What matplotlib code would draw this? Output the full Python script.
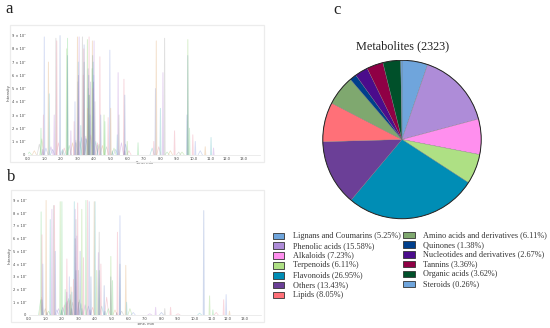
import matplotlib
matplotlib.use("Agg")
import matplotlib.pyplot as plt
from matplotlib.patches import Rectangle, Circle

W, H = 550, 328
plt.rcParams['font.family'] = ['Liberation Serif', 'DejaVu Serif']

# ---- data ----
y_ticks = [0, 1, 2, 3, 4, 5, 6, 7, 8, 9]
y_tick_labels = ['0', '1 × 10⁷', '2 × 10⁷', '3 × 10⁷', '4 × 10⁷', '5 × 10⁷', '6 × 10⁷', '7 × 10⁷', '8 × 10⁷', '9 × 10⁷']
x_ticks = [0, 1, 2, 3, 4, 5, 6, 7, 8, 9, 10, 11, 12, 13]
x_tick_labels = ['0.0', '1.0', '2.0', '3.0', '4.0', '5.0', '6.0', '7.0', '8.0', '9.0', '10.0', '11.0', '12.0', '13.0']

a_rt = [0.8, 0.95, 1.0, 1.25, 1.3, 1.6, 1.7, 1.75, 1.95, 2.35, 2.4, 2.8, 2.85, 3.0, 3.05, 3.1, 3.3, 3.35, 3.4,
        3.6, 3.65, 3.7, 3.75, 3.9, 3.95, 4.0, 4.05, 4.35, 4.4, 4.6, 4.65, 4.85, 4.95, 5.0, 5.4, 5.45, 5.5, 5.8,
        5.85, 6.0, 6.65, 7.6, 7.7, 7.75, 8.0, 8.15, 8.25, 8.85, 9.6, 9.65, 9.75, 9.95, 10.1, 10.7, 11.05, 11.2,
        3.02, 3.38, 3.68, 3.72, 3.88, 3.92, 3.98, 3.62, 3.2, 2.6]
a_height = [2.0, 3.0, 8.9, 7.0, 4.6, 3.0, 8.8, 8.6, 9.0, 8.0, 8.8, 2.5, 4.0, 8.9, 7.0, 8.9, 8.9, 6.0, 8.3,
            8.7, 5.0, 8.9, 3.0, 8.6, 7.0, 8.6, 4.0, 7.4, 3.0, 3.0, 2.5, 2.8, 7.9, 3.5, 1.5, 6.2, 3.0, 5.7,
            4.5, 1.0, 0.9, 1.0, 5.0, 8.6, 3.5, 6.2, 8.8, 1.8, 3.0, 8.7, 2.0, 1.5, 1.0, 0.6, 1.3, 0.5,
            5.5, 8.0, 6.0, 4.5, 6.5, 5.0, 6.0, 3.5, 2.2, 1.8]
a_small_rt = [0.1, 0.4, 0.7, 0.85, 1.1, 1.4, 1.5, 1.85, 2.1, 2.2, 2.5, 2.7, 2.9, 3.15, 3.25, 3.5, 3.55, 3.8, 4.1,
              4.2, 4.3, 4.5, 4.75, 5.2, 5.3, 5.65, 5.9, 6.1, 7.5, 7.9, 8.4, 8.6, 9.1, 9.3, 10.4]
a_small_height = [0.2, 0.3, 0.8, 1.2, 0.5, 0.6, 0.4, 0.9, 0.4, 0.5, 0.7, 0.9, 1.1, 1.0, 1.3, 1.4, 1.2, 1.5, 1.0,
                  0.9, 0.8, 0.7, 0.6, 0.5, 0.4, 0.9, 0.8, 0.3, 0.5, 0.6, 0.2, 0.3, 0.2, 0.2, 0.3]
a_dark_rt = [2.4, 3.05, 3.4, 3.64, 3.7, 3.78, 3.92, 3.97, 9.65, 0.9, 2.1, 2.9, 3.5, 4.2, 5.1, 5.85]
a_dark_height = [7.5, 6.0, 7.0, 6.5, 4.5, 5.5, 7.5, 5.5, 7.5, 0.4, 0.3, 0.9, 1.2, 0.7, 0.3, 0.3]

b_rt = [0.75, 0.8, 0.85, 1.05, 1.3, 1.4, 1.5, 1.55, 1.6, 1.9, 2.0, 2.3, 2.45, 2.55, 2.75, 2.8, 2.85, 2.95,
        3.1, 3.2, 3.45, 3.55, 3.65, 3.95, 4.0, 4.2, 4.25, 4.35, 4.55, 4.95, 5.05, 5.35, 5.5, 5.85, 5.9, 7.65,
        8.2, 8.55, 10.55, 10.9, 11.1, 11.75, 11.9, 12.1, 2.6, 2.9, 3.0, 3.3, 3.75, 4.1, 2.2, 2.7]
b_height = [8.1, 6.3, 4.0, 9.0, 7.5, 8.3, 8.6, 8.6, 5.0, 8.9, 8.9, 4.4, 3.0, 2.2, 8.9, 8.3, 7.5, 8.8,
            5.0, 8.3, 9.0, 9.0, 8.9, 8.9, 8.9, 4.9, 6.5, 4.0, 2.3, 4.6, 2.7, 6.5, 7.8, 3.9, 1.0, 0.6,
            0.5, 0.6, 8.2, 1.5, 0.4, 1.2, 1.6, 0.3, 1.8, 6.2, 3.5, 4.5, 3.0, 3.5, 2.0, 2.8]
b_small_rt = [0.72, 0.78, 1.0, 1.2, 1.7, 1.8, 2.05, 2.15, 2.25, 2.35, 2.4, 2.5, 2.65, 3.05, 3.15, 3.4, 3.6, 3.85,
              4.4, 4.7, 4.8, 5.2, 5.6, 6.1, 6.3, 7.3, 8.0, 9.0, 10.3, 11.3]
b_small_height = [1.2, 1.4, 0.5, 0.3, 0.4, 0.5, 0.6, 0.8, 1.0, 1.1, 1.3, 1.2, 1.0, 1.2, 0.9, 0.8, 0.7, 0.6,
                  0.7, 1.4, 0.5, 0.4, 0.3, 0.5, 0.2, 0.1, 0.2, 0.1, 0.15, 0.2]
b_dark_rt = [0.8, 2.3, 2.5, 2.8, 2.85, 3.0, 4.25, 4.95, 5.5, 1.1, 2.0, 2.6, 3.2, 3.7, 4.6, 5.3]
b_dark_height = [1.2, 1.8, 1.6, 6.0, 3.5, 1.0, 3.5, 3.0, 4.0, 0.2, 0.4, 0.5, 0.5, 0.4, 0.3, 0.2]

peak_colors = ['#8fdc9a', '#f2a3b3', '#9fb0e6', '#e5b98a', '#7fc9cf', '#c79be0', '#b5b5b5', '#eda0b0', '#8fa5d5', '#a5d98a']
dark_colors = ['#3f6f9f', '#6b4f9f', '#2f7f7f', '#5f5f8f']

categories = ['Lignans and Coumarins', 'Phenolic acids', 'Alkaloids', 'Terpenoids', 'Flavonoids', 'Others', 'Lipids',
              'Amino acids and derivatives', 'Quinones', 'Nucleotides and derivatives', 'Tannins', 'Organic acids', 'Steroids']
shares = [5.25, 15.58, 7.23, 6.11, 26.95, 13.43, 8.05, 6.11, 1.38, 2.67, 3.36, 3.62, 0.26]
pie_colors = ['#6fa5dc', '#ae8cd8', '#ff8fee', '#aee084', '#008db5', '#6b3f97', '#ff7078',
              '#7fa86f', '#003f8c', '#4b0c8c', '#8f0045', '#00502a', '#6fa5dc']

fig = plt.figure(figsize=(W / 100, H / 100), dpi=100, facecolor='white')


def px_axes(x0, y_top, x1, y_bottom):
    return fig.add_axes([x0 / W, 1 - y_bottom / H, (x1 - x0) / W, (y_bottom - y_top) / H])


def frame(x0, y0, x1, y1):
    fig.add_artist(Rectangle((x0 / W, 1 - y1 / H), (x1 - x0) / W, (y1 - y0) / H, transform=fig.transFigure,
                             fill=False, edgecolor='#ececec', linewidth=0.9))


def chromatogram(ax, rt, height, small_rt, small_height, dark_rt, dark_height):
    half = 0.05
    for i, (r, h) in enumerate(zip(small_rt, small_height)):
        c = peak_colors[i * 3 % len(peak_colors)]
        ax.plot([r - half * 2.5, r, r + half * 2.5], [0, h, 0], color=c, lw=0.5, alpha=0.5)
    for i, (r, h) in enumerate(zip(rt, height)):
        c = peak_colors[i % len(peak_colors)]
        ax.plot([r - half * 0.6, r, r + half * 0.6], [0, h, 0], color=c, lw=0.7, alpha=0.42)
    for i, (r, h) in enumerate(zip(dark_rt, dark_height)):
        c = dark_colors[i % len(dark_colors)]
        ax.plot([r - half * 0.6, r, r + half * 0.6], [0, h, 0], color=c, lw=0.5, alpha=0.3)
    ax.set_xlim(0, 14)
    ax.set_ylim(0, 9.35)
    for s in ['top', 'right', 'left']:
        ax.spines[s].set_visible(False)
    ax.spines['bottom'].set_color('#e4e4e4')
    ax.spines['bottom'].set_linewidth(0.5)
    ax.set_xticks(x_ticks, x_tick_labels)
    ax.set_yticks(y_ticks, y_tick_labels)
    ax.tick_params(length=0, pad=1.5, labelsize=2.6, labelcolor='#444444')
    for t in ax.get_xticklabels() + ax.get_yticklabels():
        t.set_family('DejaVu Sans')
    ax.set_xlabel('Time, min', fontsize=2.6, family='DejaVu Sans', color='#444444', labelpad=0.5)
    ax.set_ylabel('Intensity', fontsize=2.8, family='DejaVu Sans', color='#444444', labelpad=1)
    ax.patch.set_alpha(0)


frame(9.5, 24.5, 263.5, 162.5)
chromatogram(px_axes(27.7, 31, 260, 154.7), a_rt, a_height, a_small_rt, a_small_height, a_dark_rt, a_dark_height)

frame(10.5, 189.5, 264, 322)
chromatogram(px_axes(28.7, 196, 261, 315), b_rt, b_height, b_small_rt, b_small_height, b_dark_rt, b_dark_height)

# pie
pie_ax = px_axes(322, 59.5, 482, 219.5)
pie_ax.pie(shares, colors=pie_colors, startangle=90, counterclock=False, radius=1,
           wedgeprops=dict(edgecolor='#777777', linewidth=0.2))
pie_ax.add_patch(Circle((0, 0), 1, fill=False, edgecolor='#222222', linewidth=0.7))
pie_ax.set_xlim(-1.01, 1.01)
pie_ax.set_ylim(-1.01, 1.01)
pie_ax.set_aspect('equal')
fig.text(403 / W, 1 - 46 / H, 'Metabolites (2323)', ha='center', va='center', fontsize=8.8, color='#222222')

# legend
col1_y = [236, 245.7, 255.3, 265.3, 275.3, 285, 294.7]
col2_y = [235, 244.7, 254.3, 264, 273.7, 283.7]
slots = [(273, 292.7, y) for y in col1_y] + [(403.3, 422.7, y) for y in col2_y]
for name, share, color, (sx, tx, y) in zip(categories, shares, pie_colors, slots):
    fig.add_artist(Rectangle((sx / W, 1 - (y + 3.2) / H), 11.3 / W, 6.4 / H, transform=fig.transFigure,
                             facecolor=color, edgecolor='#333333', linewidth=0.6))
    fig.text(tx / W, 1 - y / H, f'{name} ({share:.2f}%)', ha='left', va='center', fontsize=5.95, color='#333333')

# panel letters
fig.text(9.5 / W, 1 - 9 / H, 'a', ha='center', va='center', fontsize=12, color='#222222')
fig.text(11 / W, 1 - 177 / H, 'b', ha='center', va='center', fontsize=12, color='#222222')
fig.text(337 / W, 1 - 10 / H, 'c', ha='center', va='center', fontsize=12, color='#222222')

fig.savefig('out.png', dpi=100, facecolor='white')
